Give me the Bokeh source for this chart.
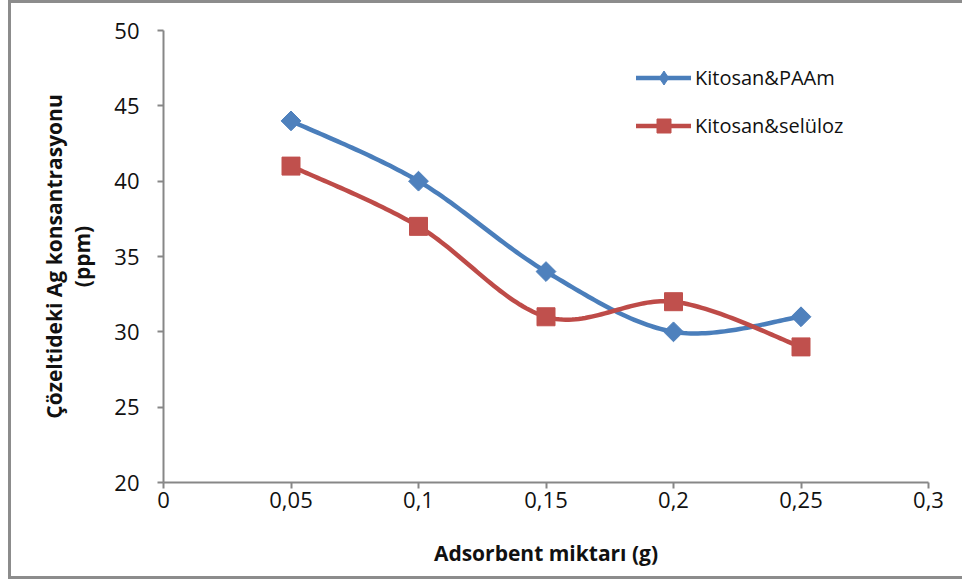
import numpy as np
from bokeh.plotting import figure
from bokeh.models import Legend, LegendItem, FixedTicker, Range1d
from bokeh.layouts import column
from bokeh.embed import file_html
from bokeh.resources import INLINE

# ---- data ----
x_values = [0.05, 0.10, 0.15, 0.20, 0.25]
paam = [44, 40, 34, 30, 31]
seluloz = [41, 37, 31, 32, 29]
series_names = ["Kitosan&PAAm", "Kitosan&selüloz"]
x_ticks = [0, 0.05, 0.1, 0.15, 0.2, 0.25, 0.3]
x_tick_labels = ["0", "0,05", "0,1", "0,15", "0,2", "0,25", "0,3"]
y_ticks = [20, 25, 30, 35, 40, 45, 50]

FONT = "Open Sans"
AXIS_GRAY = "#878787"


def smooth(xs, ys, n=40):
    """Catmull-Rom style Bezier smoothing (like a spreadsheet's smoothed line)."""
    pts = np.column_stack([xs, ys]).astype(float)
    out = []
    m = len(pts)
    t = np.linspace(0, 1, n)[:, None]
    for i in range(m - 1):
        p0 = pts[i - 1] if i > 0 else pts[i]
        p1 = pts[i]
        p2 = pts[i + 1]
        p3 = pts[i + 2] if i + 2 < m else pts[i + 1]
        c1 = p1 + (p2 - p0) / 6.0
        c2 = p2 - (p3 - p1) / 6.0
        seg = ((1 - t) ** 3) * p1 + 3 * ((1 - t) ** 2) * t * c1 + 3 * (1 - t) * t ** 2 * c2 + t ** 3 * p2
        if i > 0:
            seg = seg[1:]
        out.append(seg)
    arr = np.vstack(out)
    return arr[:, 0], arr[:, 1]


p = figure(width=951, height=573, output_backend="svg", toolbar_location=None,
           x_range=Range1d(0, 0.3), y_range=Range1d(20, 50),
           min_border_left=152, min_border_right=34, min_border_top=27, min_border_bottom=94)
p.outline_line_color = None
p.xgrid.visible = False
p.ygrid.visible = False
p.background_fill_color = "white"
p.border_fill_color = "white"

for ax in (p.xaxis[0], p.yaxis[0]):
    ax.axis_line_color = AXIS_GRAY
    ax.axis_line_width = 2
    ax.major_tick_line_color = AXIS_GRAY
    ax.major_tick_line_width = 2
    ax.major_tick_out = 6
    ax.major_tick_in = 0
    ax.minor_tick_line_color = None
    ax.major_label_text_font = FONT
    ax.major_label_text_font_size = "22px"
    ax.major_label_text_color = "#111111"
    ax.axis_label_text_font = FONT
    ax.axis_label_text_font_size = "21px"
    ax.axis_label_text_font_style = "bold"
    ax.axis_label_text_color = "#111111"

p.xaxis.ticker = FixedTicker(ticks=x_ticks)
p.xaxis.major_label_overrides = {t: l for t, l in zip(x_ticks, x_tick_labels)}
p.xaxis.major_label_standoff = 3
p.xaxis.axis_label = "Adsorbent miktarı (g)"
p.xaxis.axis_label_standoff = 28

p.yaxis.ticker = FixedTicker(ticks=y_ticks)
p.yaxis.major_label_standoff = 18
p.yaxis.axis_label = "Çözeltideki Ag konsantrasyonu\n(ppm)"
p.yaxis.axis_label_standoff = 15
p.yaxis.axis_label_text_line_height = 1.0

colors_line = ["#4A7EBB", "#BE4B48"]
colors_mark = ["#4F81BD", "#C0504D"]

items = []
for k, ys in enumerate([paam, seluloz]):
    sx, sy = smooth(x_values, ys)
    lr = p.line(sx, sy, line_color=colors_line[k], line_width=4.5, line_cap="round", line_join="round")
    if k == 0:
        p.scatter(x_values, ys, marker="square", size=14, angle=np.pi / 4,
                  fill_color=colors_mark[k], line_color=colors_mark[k], line_width=1)
        # legend-only marker (legend glyphs are drawn unrotated); NaN y keeps it off the plot
        mr = p.scatter(x_values, [np.nan] * len(x_values), marker="diamond",
                       fill_color=colors_mark[k], line_color=colors_mark[k], line_width=1)
    else:
        mr = p.scatter(x_values, ys, marker="square", size=18,
                       fill_color=colors_mark[k], line_color=colors_mark[k], line_width=1)
    items.append(LegendItem(label=series_names[k], renderers=[lr, mr]))

legend = Legend(items=items, location=(473, 339), orientation="vertical",
                glyph_width=55, glyph_height=35, spacing=13, label_standoff=4,
                padding=0, margin=0, border_line_color=None, background_fill_alpha=0,
                label_text_font=FONT, label_text_font_size="20px", label_text_color="#111111")
p.add_layout(legend)

layout = column(p, styles={"margin-left": "8px",
                           "border-left": "3px solid #8c8c8c",
                           "border-top": "3px solid #8c8c8c",
                           "border-bottom": "3px solid #8c8c8c"})

open("out.html", "w").write(file_html(layout, INLINE))
